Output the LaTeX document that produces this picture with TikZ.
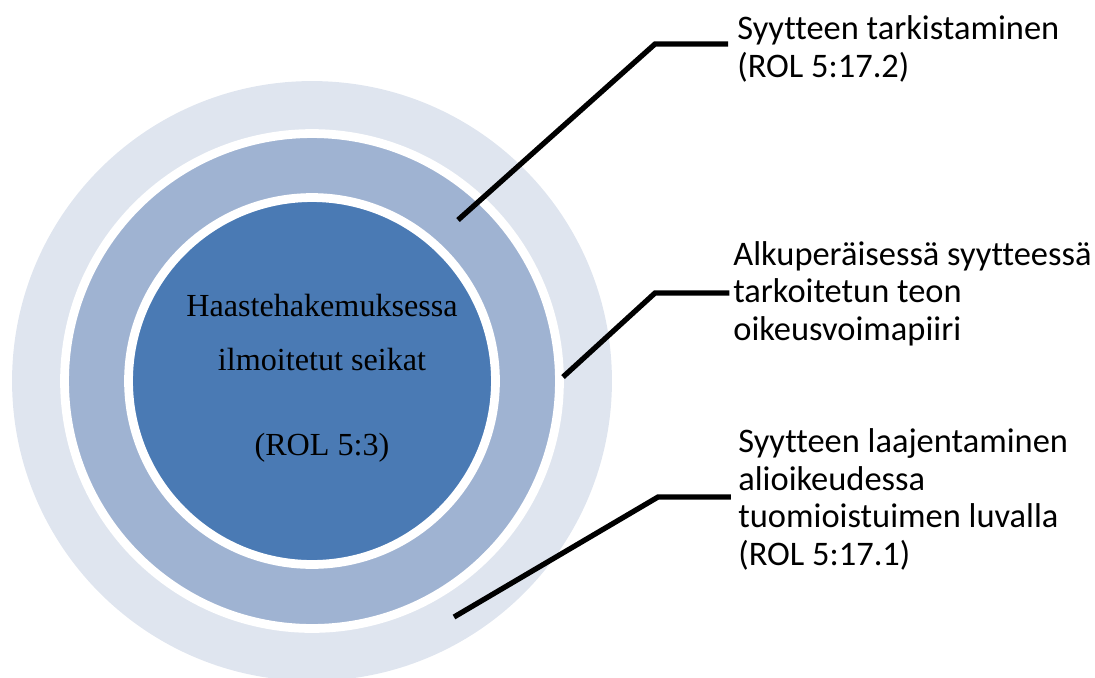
\documentclass[tikz,border=0pt]{standalone}
\usepackage{fontspec}
\setmainfont{Liberation Serif}
\newfontfamily\labelfont[Ligatures=NoCommon]{Carlito}
\definecolor{ringout}{HTML}{DFE5EF}
\definecolor{ringmid}{HTML}{9FB3D2}
\definecolor{ringin}{HTML}{4A7AB4}
\tikzset{
  ring/.style={circle, inner sep=0pt, draw=white, line width=5},
  lead/.style={line width=3pt},
  note/.style={anchor=base west, align=left, inner sep=0pt,
    font=\labelfont\fontsize{19.6}{21.3}\selectfont}
}

\begin{document}
\begin{tikzpicture}[x=0.02cm, y=-0.02cm]
\useasboundingbox (0,0) rectangle (1095,677);
\clip (0,0) rectangle (1095,677);

\node[ring, fill=ringout, draw=none, minimum size=12cm] (outer) at (312,381) {};
\node[ring, fill=ringmid, minimum size=9.9cm] (middle) at (312,381) {};
\node[ring, fill=ringin, minimum size=7.34cm] (inner) at (312,381) {};
\node[align=center, font=\fontsize{18.3}{30.7}\selectfont] (facts) at (322,378)
  {Haastehakemuksessa\\ilmoitetut seikat\\[17.5pt](ROL 5:3)};

% base west of a multi-line node sits on its last line
\node[note] (check) at (737,77) {Syytteen tarkistaminen\\(ROL 5:17.2)};
\node[note] (orig) at (733,340) {Alkuperäisessä syytteessä\\tarkoitetun teon\\oikeusvoimapiiri};
\node[note] (extend) at (738,565) {Syytteen laajentaminen\\alioikeudessa\\tuomioistuimen luvalla\\(ROL 5:17.1)};

\coordinate (p1) at (458,220);
\coordinate (k1) at (655,44);
\coordinate (p2) at (563,377);
\coordinate (k2) at (655,293);
\coordinate (p3) at (454,617);
\coordinate (k3) at (658,497);

\draw[lead] (p1) -- (k1) -- ([xshift=-5]k1 -| check.west);
\draw[lead] (p2) -- (k2) -- ([xshift=-2]k2 -| orig.west);
\draw[lead] (p3) -- (k3) -- ([xshift=-4]k3 -| extend.west);
\end{tikzpicture}
\end{document}
